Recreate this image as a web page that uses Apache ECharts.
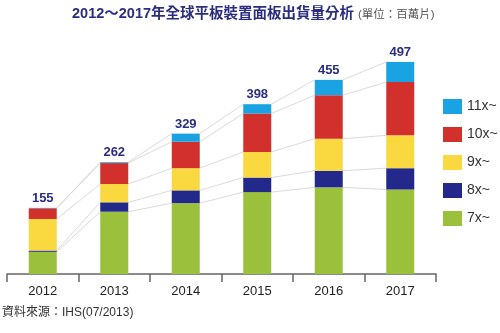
<!DOCTYPE html>
<html>
<head>
<meta charset="utf-8">
<style>
  html, body { margin: 0; padding: 0; background: #fff; }
  #chart { width: 500px; height: 333px; }
</style>
<script src="https://cdn.jsdelivr.net/npm/echarts@6/dist/echarts.min.js"></script>
</head>
<body>
<div id="chart"></div>
<script>
// Tablet panel shipments by size class, millions of units
const years = ['2012', '2013', '2014', '2015', '2016', '2017'];
const size7 = [52, 146, 166, 192, 203, 198];
const size8 = [3, 22, 30, 34, 39, 50];
const size9 = [74, 43, 52, 60, 75, 77];
const size10 = [25, 49, 62, 90, 102, 125];
const size11 = [1, 2, 19, 22, 36, 47];
const seriesNames = ['7x~', '8x~', '9x~', '10x~', '11x~'];
const colors = ['#9BC03B', '#23298A', '#F9D93F', '#D2302D', '#1AA3E2'];

const stacks = [size7, size8, size9, size10, size11];
const totals = years.map((_, i) => stacks.reduce((s, arr) => s + arr[i], 0));

const BAR_W = 28;
const FONT = '"Liberation Sans", Arial, "Noto Sans CJK TC", sans-serif';

// Cumulative tops for each stack level, used by the connector lines
const cumulative = stacks.map((_, k) =>
  years.map((_, i) => stacks.slice(0, k + 1).reduce((s, arr) => s + arr[i], 0))
);
const connectorData = [];
for (let k = 0; k < stacks.length; k++) {
  for (let i = 0; i < years.length - 1; i++) {
    connectorData.push([i, cumulative[k][i], cumulative[k][i + 1]]);
  }
}

const chart = echarts.init(document.getElementById('chart'));

const barSeries = stacks.map((arr, k) => ({
  name: seriesNames[k],
  type: 'bar',
  stack: 'total',
  barWidth: BAR_W,
  data: arr,
  itemStyle: { color: colors[k] },
  z: 3,
  label: k === stacks.length - 1 ? {
    show: true,
    position: 'top',
    distance: 3,
    formatter: p => String(totals[p.dataIndex]),
    color: '#2A2D80',
    fontWeight: 'bold',
    fontSize: 13,
    fontFamily: FONT
  } : { show: false }
}));

chart.setOption({
  animation: false,
  backgroundColor: '#fff',
  title: {
    left: 72,
    top: 7,
    padding: 0,
    text: '{a|2012～2017年全球平板裝置面板出貨量分析}{b|(單位：百萬片)}',
    textStyle: {
      rich: {
        a: { fontSize: 14.5, fontWeight: 'bold', color: '#2B2D7E', fontFamily: FONT },
        b: { fontSize: 11.5, fontWeight: 'normal', color: '#555', fontFamily: FONT, padding: [2, 0, 0, 4] }
      }
    }
  },
  legend: {
    orient: 'vertical',
    left: 443,
    top: 99,
    padding: 0,
    itemWidth: 19,
    itemHeight: 15,
    itemGap: 13,
    icon: 'rect',
    data: seriesNames.slice().reverse(),
    textStyle: { fontSize: 14, color: '#333', fontFamily: FONT }
  },
  grid: { left: 7, right: 64, top: 18, bottom: 59 },
  xAxis: {
    type: 'category',
    data: years,
    axisLine: { lineStyle: { color: '#666', width: 1.5 } },
    axisTick: { show: true, length: 8, lineStyle: { color: '#666', width: 1.5 } },
    axisLabel: { margin: 11, fontSize: 13, color: '#222', fontFamily: FONT }
  },
  yAxis: {
    type: 'value',
    min: 0,
    max: 600,
    show: false,
    splitLine: { show: false }
  },
  graphic: [{
    type: 'text',
    left: 2,
    top: 307,
    style: {
      text: '資料來源：IHS(07/2013)',
      fontSize: 12,
      fill: '#333',
      fontFamily: FONT
    }
  }],
  series: [
    {
      type: 'custom',
      name: 'connectors',
      data: connectorData,
      encode: { x: 0, y: 1 },
      z: 1,
      silent: true,
      renderItem: (params, api) => {
        const i = api.value(0);
        const p1 = api.coord([i, api.value(1)]);
        const p2 = api.coord([i + 1, api.value(2)]);
        const half = BAR_W / 2;
        return {
          type: 'line',
          shape: { x1: p1[0] + half, y1: p1[1], x2: p2[0] - half, y2: p2[1] },
          style: { stroke: '#DADADA', lineWidth: 1 }
        };
      }
    },
    ...barSeries
  ]
});
</script>
</body>
</html>
